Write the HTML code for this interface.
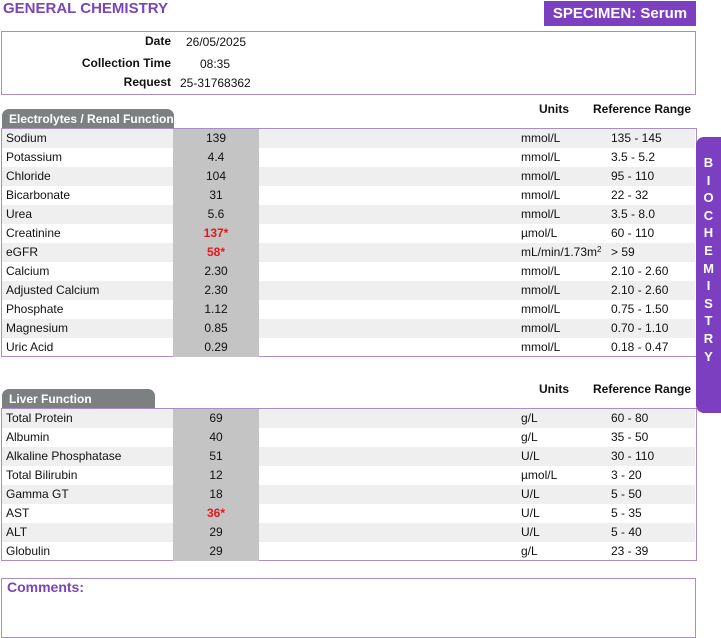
<!DOCTYPE html>
<html><head><meta charset="utf-8"><style>
*{margin:0;padding:0;box-sizing:border-box}
body{width:721px;height:607px;background:#fff;font-family:"Liberation Sans",Arial,sans-serif;position:relative;overflow:hidden;color:#111}
.a{position:absolute;white-space:nowrap}
.title{left:3px;top:0px;font-size:15px;font-weight:bold;color:#7a45b8}
.spec{left:544px;top:1px;width:152px;height:25px;background:#7b3fc0;color:#fff;font-weight:bold;font-size:15px;text-align:center;line-height:25px}
.box{position:absolute;border:1px solid #a98cc8}
.lbl{font-size:12px;font-weight:bold;text-align:right}
.v{font-size:12px}
.tab{position:absolute;background:#7c8081;color:#fff;font-weight:bold;font-size:12px;border-radius:7px 7px 0 0;padding-left:7px;line-height:20px}
.row{position:absolute;left:2px;width:693px;height:19px;font-size:12px;line-height:19px}
.row.g{background:#efefef}
.row span{position:absolute}
.n{left:4px}
.r{left:171px;width:86px;text-align:center;background:#c4c4c4;height:19px}
.u{left:519px}
.rg{left:609px}
.red{color:#e0191e;font-weight:bold}
.hd{font-size:12px;font-weight:bold}
sup{font-size:8px;line-height:0;vertical-align:4px}
.side{position:absolute;left:696px;top:137px;width:25px;height:276px;background:#7b3fc0;border-radius:8px 0 0 8px;color:#fff;font-weight:bold;font-size:13px;text-align:center;padding-top:17px;line-height:17.6px}
</style></head><body>
<div class="a title">GENERAL CHEMISTRY</div>
<div class="a spec">SPECIMEN: Serum</div>
<div class="box" style="left:1px;top:31px;width:695px;height:64px"></div>
<div class="a lbl" style="right:550px;top:34px">Date</div>
<div class="a v" style="left:186px;top:35px">26/05/2025</div>
<div class="a lbl" style="right:550px;top:56px">Collection Time</div>
<div class="a v" style="left:200px;top:57px">08:35</div>
<div class="a lbl" style="right:550px;top:75px">Request</div>
<div class="a v" style="left:180px;top:76px">25-31768362</div>

<div class="a hd" style="left:539px;top:102px">Units</div>
<div class="a hd" style="left:593px;top:102px">Reference Range</div>
<div class="tab" style="left:2px;top:109px;width:172px;height:20px">Electrolytes / Renal Function</div>
<div class="box" style="left:1px;top:128px;width:696px;height:229px"></div>
<div class="row g" style="top:129px"><span class="n">Sodium</span><span class="r">139</span><span class="u">mmol/L</span><span class="rg">135 - 145</span></div>
<div class="row" style="top:148px"><span class="n">Potassium</span><span class="r">4.4</span><span class="u">mmol/L</span><span class="rg">3.5 - 5.2</span></div>
<div class="row g" style="top:167px"><span class="n">Chloride</span><span class="r">104</span><span class="u">mmol/L</span><span class="rg">95 - 110</span></div>
<div class="row" style="top:186px"><span class="n">Bicarbonate</span><span class="r">31</span><span class="u">mmol/L</span><span class="rg">22 - 32</span></div>
<div class="row g" style="top:205px"><span class="n">Urea</span><span class="r">5.6</span><span class="u">mmol/L</span><span class="rg">3.5 - 8.0</span></div>
<div class="row" style="top:224px"><span class="n">Creatinine</span><span class="r red">137*</span><span class="u">µmol/L</span><span class="rg">60 - 110</span></div>
<div class="row g" style="top:243px"><span class="n">eGFR</span><span class="r red">58*</span><span class="u">mL/min/1.73m<sup>2</sup></span><span class="rg">&gt; 59</span></div>
<div class="row" style="top:262px"><span class="n">Calcium</span><span class="r">2.30</span><span class="u">mmol/L</span><span class="rg">2.10 - 2.60</span></div>
<div class="row g" style="top:281px"><span class="n">Adjusted Calcium</span><span class="r">2.30</span><span class="u">mmol/L</span><span class="rg">2.10 - 2.60</span></div>
<div class="row" style="top:300px"><span class="n">Phosphate</span><span class="r">1.12</span><span class="u">mmol/L</span><span class="rg">0.75 - 1.50</span></div>
<div class="row g" style="top:319px"><span class="n">Magnesium</span><span class="r">0.85</span><span class="u">mmol/L</span><span class="rg">0.70 - 1.10</span></div>
<div class="row" style="top:338px"><span class="n">Uric Acid</span><span class="r">0.29</span><span class="u">mmol/L</span><span class="rg">0.18 - 0.47</span></div>

<div class="a hd" style="left:539px;top:382px">Units</div>
<div class="a hd" style="left:593px;top:382px">Reference Range</div>
<div class="tab" style="left:2px;top:389px;width:153px;height:20px">Liver Function</div>
<div class="box" style="left:1px;top:408px;width:696px;height:153px"></div>
<div class="row g" style="top:409px"><span class="n">Total Protein</span><span class="r">69</span><span class="u">g/L</span><span class="rg">60 - 80</span></div>
<div class="row" style="top:428px"><span class="n">Albumin</span><span class="r">40</span><span class="u">g/L</span><span class="rg">35 - 50</span></div>
<div class="row g" style="top:447px"><span class="n">Alkaline Phosphatase</span><span class="r">51</span><span class="u">U/L</span><span class="rg">30 - 110</span></div>
<div class="row" style="top:466px"><span class="n">Total Bilirubin</span><span class="r">12</span><span class="u">µmol/L</span><span class="rg">3 - 20</span></div>
<div class="row g" style="top:485px"><span class="n">Gamma GT</span><span class="r">18</span><span class="u">U/L</span><span class="rg">5 - 50</span></div>
<div class="row" style="top:504px"><span class="n">AST</span><span class="r red">36*</span><span class="u">U/L</span><span class="rg">5 - 35</span></div>
<div class="row g" style="top:523px"><span class="n">ALT</span><span class="r">29</span><span class="u">U/L</span><span class="rg">5 - 40</span></div>
<div class="row" style="top:542px"><span class="n">Globulin</span><span class="r">29</span><span class="u">g/L</span><span class="rg">23 - 39</span></div>

<div class="box" style="left:1px;top:578px;width:695px;height:60px"></div>
<div class="a" style="left:7px;top:579px;font-size:14px;font-weight:bold;color:#7a45b8">Comments:</div>

<div class="side">B<br>I<br>O<br>C<br>H<br>E<br>M<br>I<br>S<br>T<br>R<br>Y</div>
</body></html>
